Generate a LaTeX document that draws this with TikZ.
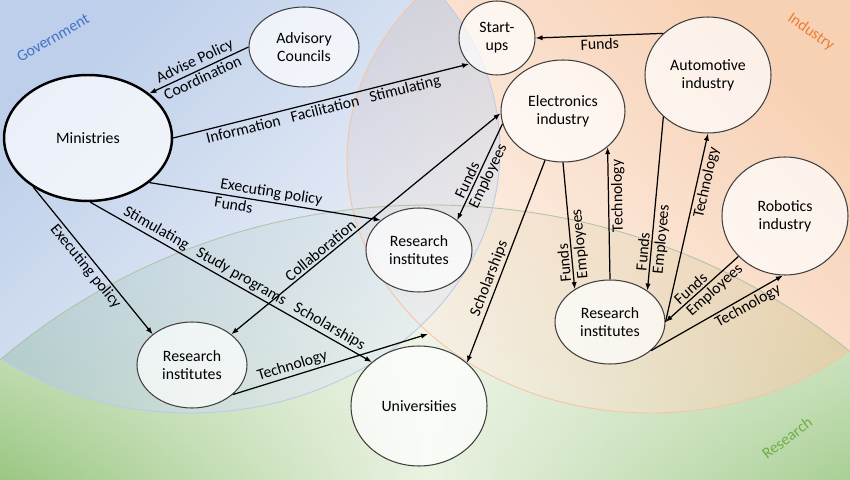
\documentclass[tikz,border=0pt]{standalone}
\usepackage{fontspec}
\setmainfont{Carlito}
\usepackage{tikz}
\usetikzlibrary{positioning, arrows.meta, shapes.geometric, fadings}
\definecolor{govblue}{HTML}{88A8DA}
\definecolor{govlight}{HTML}{E8EDF6}
\definecolor{indpeach}{HTML}{F2AC78}
\definecolor{indlight}{HTML}{FCEFE6}
\definecolor{resgreen}{HTML}{9AC782}
\definecolor{reslight}{HTML}{EAF2E2}
\definecolor{govtext}{HTML}{4472C4}
\definecolor{indtext}{HTML}{ED7D31}
\definecolor{restext}{HTML}{70AD47}
\def\gap{\hspace{.7em}}
\tikzset{
  org/.style={ellipse, draw=black!75, line width=.6pt, fill=white, fill opacity=.7,
    text opacity=1, inner sep=0pt, align=center},
  link/.style={line width=.7pt},
  lbl/.style={sloped, inner sep=1.2pt},
  region/.style={fill opacity=.55}
}

\begin{document}
\begin{tikzpicture}[x=0.02cm, y=-0.02cm, font=\fontsize{9}{10.2}\selectfont,
  >={Latex[length=4pt, width=3pt]}]
  \useasboundingbox (0,0) rectangle (850,480);
  % background circles
  \begin{scope}
    \clip (0,0) rectangle (850,480);
    \fill[white] (0,0) rectangle (850,480);
    \begin{scope}
      \clip (430,800) ellipse [x radius=639, y radius=595];
      \fill[reslight, fill opacity=.6] (0,200) rectangle (850,480);
      \shade[left color=resgreen, right color=resgreen!85!white, middle color=reslight, path fading=north] (0,200) rectangle (850,480);
    \end{scope}
    \begin{scope}
      \clip (650,160) ellipse [x radius=303, y radius=253];
      \shade[region, top color=indpeach, bottom color=indlight, shading angle=-45] (347,0) rectangle (850,413);
    \end{scope}
    \begin{scope}
      \clip (190,150) ellipse [x radius=310, y radius=263];
      \shade[region, left color=govblue, right color=govlight, shading angle=45] (0,0) rectangle (500,413);
    \end{scope}
    \draw[resgreen!60!gray!70, line width=.5pt] (430,800) ellipse [x radius=639, y radius=595];
    \draw[indpeach!70, line width=.5pt] (650,160) ellipse [x radius=303, y radius=253];
    \draw[govblue!60, line width=.5pt] (190,150) ellipse [x radius=310, y radius=263];
  \end{scope}

  \node[text=govtext, rotate=30] at (53,38) {Government};
  \node[text=indtext, rotate=-35] at (811,32) {Industry};
  \node[text=restext, rotate=37] at (787,438) {Research};

  % actors
  \node[org, line width=1.4pt, draw=black, minimum width=3.36cm, minimum height=2.52cm] (ministries) at (88,138) {Ministries};
  \node[org, minimum width=2.2cm, minimum height=1.6cm] (advisory) at (304,47) {Advisory\\Councils};
  \node[org, minimum width=1.52cm, minimum height=1.48cm] (startups) at (497,38) {Start-\\ups};
  \node[org, minimum width=2.48cm, minimum height=2.04cm] (elec) at (563,111) {Electronics\\industry};
  \node[org, minimum width=2.52cm, minimum height=2.32cm] (auto) at (708,75) {Automotive\\industry};
  \node[org, minimum width=2.52cm, minimum height=2.36cm] (robot) at (785,216) {Robotics\\industry};
  \node[org, minimum width=2.2cm, minimum height=1.68cm] (riright) at (610,322) {Research\\institutes};
  \node[org, minimum width=2.12cm, minimum height=1.68cm] (rimid) at (419,250) {Research\\institutes};
  \node[org, minimum width=2.2cm, minimum height=1.72cm] (rileft) at (192,365) {Research\\institutes};
  \node[org, minimum width=2.72cm, minimum height=2.4cm] (univ) at (419,406) {Universities};
  \coordinate (indedge) at (428,334);

  % government links
  \draw[link, ->] (advisory.west) -- node[lbl, above] {Advise Policy} node[lbl, below] {Coordination} (ministries.36);
  \draw[link, ->] (ministries.east) -- node[lbl, below] {Information\gap Facilitation\gap Stimulating} (startups.223);
  \draw[link, ->] (ministries.-36) -- node[lbl, above, pos=.52] {Executing policy} node[lbl, below, pos=.37] {Funds} (rimid.142);
  \draw[link, ->] (ministries.222) -- node[lbl, below] {Executing policy} (rileft.142);
  \draw[link, ->] (ministries.-88) -- node[lbl, above, pos=.53] {Stimulating\gap Study programs\gap Scholarships} (univ.137);

  % research links
  \draw[link, <->] (rileft.38) -- node[lbl, above, pos=.35] {Collaboration} (elec.182);
  \draw[link, ->] (rileft.-36) -- node[lbl, above, pos=.32] {Technology} (indedge);

  % industry links
  \draw[link, ->] (elec.192) -- node[lbl, above, pos=.62] {Funds} node[lbl, below, pos=.5] {Employees} (rimid.38);
  \draw[link, ->] (elec.250) -- node[lbl, above, pos=.6] {Scholarships} (univ.42);
  \draw[link, <-] (riright.137) -- node[lbl, allow upside down, above, pos=.21] {Funds} node[lbl, allow upside down, below, pos=.35] {Employees} (elec.south);
  \draw[link, ->] (riright.north) -- node[lbl, allow upside down, below, pos=.63] {Technology} (elec.-39);
  \draw[link, ->] (auto.223) -- node[lbl, above, pos=.78] {Funds} node[lbl, below, pos=.7] {Employees} (riright.40);
  \draw[link, ->] (riright.east) -- node[lbl, below, pos=.75] {Technology} (auto.south);
  \draw[link, ->] (robot.221) -- node[lbl, above, pos=.58] {Funds} node[lbl, below, pos=.41] {Employees} (riright.east);
  \draw[link, ->] (riright.-35) -- node[lbl, below, pos=.7] {Technology} (robot.-92);
  \draw[link, ->] (auto.137) -- node[lbl, below] {Funds} (startups.east);
\end{tikzpicture}
\end{document}
